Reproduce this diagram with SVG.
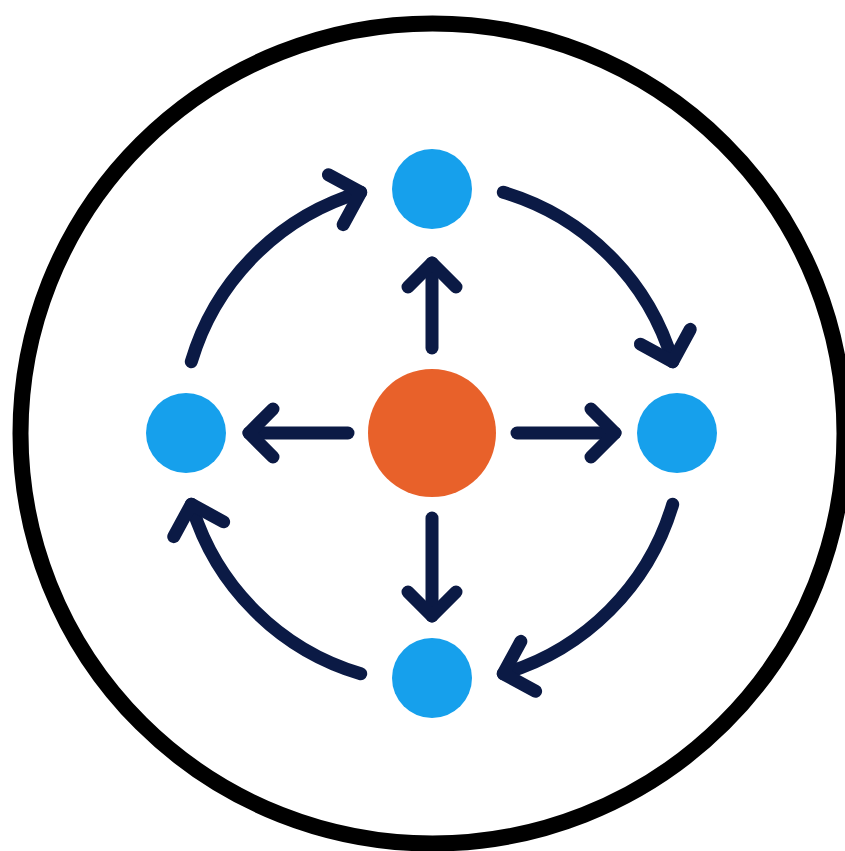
<svg xmlns="http://www.w3.org/2000/svg" width="845" height="851" viewBox="0 0 845 851">
  <style>
    .ring { fill: none; stroke: #000000; stroke-width: 16; }
    .hub { fill: #e8612a; }
    .node { fill: #16a0ec; }
    .conn { fill: none; stroke: #0b1a45; stroke-width: 13; stroke-linecap: round; }
    .straight { marker-end: url(#headS); }
    .curved { marker-end: url(#headC); }
  </style>
  <defs>
    <marker id="headS" markerUnits="userSpaceOnUse" viewBox="-40 -40 80 80" refX="0" refY="0" markerWidth="80" markerHeight="80" orient="auto" overflow="visible">
      <path d="M-24 -24 L0 0 L-24 24" fill="none" stroke="#0b1a45" stroke-width="13" stroke-linecap="round" stroke-linejoin="round"/>
    </marker>
    <marker id="headC" markerUnits="userSpaceOnUse" viewBox="-40 -40 80 80" refX="0" refY="0" markerWidth="80" markerHeight="80" orient="auto" overflow="visible">
      <path d="M-26 -26 L0 0 L-26 26" fill="none" stroke="#0b1a45" stroke-width="13" stroke-linecap="round" stroke-linejoin="round"/>
    </marker>
  </defs>
  <rect width="845" height="851" fill="#ffffff"/>
  <ellipse class="ring" cx="432.5" cy="433.5" rx="412" ry="410"/>
  <g id="connectors">
    <path class="conn straight" d="M432 348 L432 263"/>
    <path class="conn straight" d="M432 518 L432 616"/>
    <path class="conn straight" d="M348 433 L249 433"/>
    <path class="conn straight" d="M517 433 L615 433"/>
    <path class="conn curved" d="M191.3 361.7 A251 251 0 0 1 360.7 192.3"/>
    <path class="conn curved" d="M503.3 192.3 A251 251 0 0 1 672.7 361.7"/>
    <path class="conn curved" d="M672.7 504.3 A251 251 0 0 1 503.3 673.7"/>
    <path class="conn curved" d="M360.7 673.7 A251 251 0 0 1 191.3 504.3"/>
  </g>
  <g id="hub"><circle class="hub" cx="432" cy="433" r="64"/></g>
  <g id="node-top"><circle class="node" cx="432" cy="189" r="40"/></g>
  <g id="node-right"><circle class="node" cx="677" cy="433" r="40"/></g>
  <g id="node-bottom"><circle class="node" cx="432" cy="678" r="40"/></g>
  <g id="node-left"><circle class="node" cx="186" cy="433" r="40"/></g>
</svg>
